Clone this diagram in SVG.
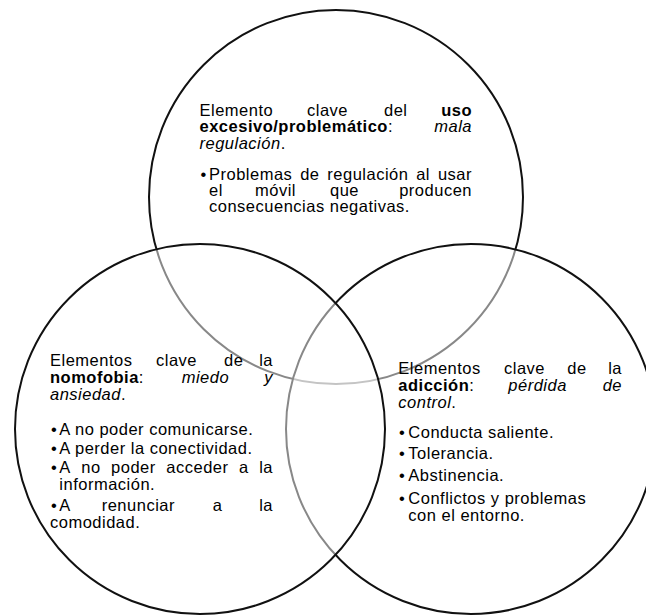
<svg xmlns="http://www.w3.org/2000/svg" width="646" height="615" viewBox="0 0 646 615">
<style>
.c{fill:#fff;fill-opacity:0.5;stroke:#111;stroke-width:2}
.t{font-family:"Liberation Sans",Arial,sans-serif;font-size:16.5px;letter-spacing:0.5px;fill:#000}
.b{font-weight:bold}
.i{font-style:italic}
.e{text-anchor:end}
</style>
<rect width="646" height="615" fill="#fff"/>
<g id="uso-excesivo">
<circle class="c" cx="336" cy="197" r="187"/>
<text class="t" y="116"><tspan x="199.5">Elemento</tspan><tspan x="307">clave</tspan><tspan x="384">del</tspan><tspan class="b e" x="472">uso</tspan></text>
<text class="t" y="132"><tspan x="199.5" class="b">excesivo/problemático</tspan>:<tspan class="i e" x="472">mala</tspan></text>
<text class="t" y="148.5"><tspan x="199.5" class="i">regulación</tspan>.</text>
<text class="t" y="180"><tspan x="200.5">•</tspan><tspan x="209">Problemas</tspan><tspan x="300.2">de</tspan><tspan x="327.3">regulación</tspan><tspan x="416.2">al</tspan><tspan class="e" x="472">usar</tspan></text>
<text class="t" y="196"><tspan x="209">el</tspan><tspan x="255">móvil</tspan><tspan x="330">que</tspan><tspan class="e" x="472">producen</tspan></text>
<text class="t" x="209" y="212">consecuencias negativas.</text>
</g>
<g id="adiccion">
<circle class="c" cx="471" cy="429" r="185"/>
<text class="t" y="374"><tspan x="398.3">Elementos</tspan><tspan x="504">clave</tspan><tspan x="567.3">de</tspan><tspan class="e" x="622">la</tspan></text>
<text class="t" y="391"><tspan x="398.3" class="b">adicción</tspan>:<tspan class="i" x="508.3">pérdida</tspan><tspan class="i e" x="622">de</tspan></text>
<text class="t" y="408"><tspan x="398.3" class="i">control</tspan>.</text>
<text class="t" y="438"><tspan x="399">•</tspan><tspan x="408.3">Conducta saliente.</tspan></text>
<text class="t" y="459"><tspan x="399">•</tspan><tspan x="408.3">Tolerancia.</tspan></text>
<text class="t" y="481"><tspan x="399">•</tspan><tspan x="408.3">Abstinencia.</tspan></text>
<text class="t" y="504"><tspan x="399">•</tspan><tspan x="408.3">Conflictos y problemas</tspan></text>
<text class="t" x="408.3" y="521">con el entorno.</text>
</g>
<g id="nomofobia">
<circle class="c" cx="200" cy="429" r="185"/>
<text class="t" y="366"><tspan x="50">Elementos</tspan><tspan x="156">clave</tspan><tspan x="224">de</tspan><tspan class="e" x="273">la</tspan></text>
<text class="t" y="383"><tspan x="50" class="b">nomofobia</tspan>:<tspan class="i" x="181.7">miedo</tspan><tspan class="i e" x="273">y</tspan></text>
<text class="t" y="400"><tspan x="50" class="i">ansiedad</tspan>.</text>
<text class="t" y="435"><tspan x="51">•</tspan><tspan x="59.3">A no poder comunicarse.</tspan></text>
<text class="t" y="454"><tspan x="51">•</tspan><tspan x="59.3">A perder la conectividad.</tspan></text>
<text class="t" y="473"><tspan x="51">•</tspan><tspan x="59.3">A</tspan><tspan x="81.3">no</tspan><tspan x="111.1">poder</tspan><tspan x="166.3">acceder</tspan><tspan x="239">a</tspan><tspan class="e" x="273">la</tspan></text>
<text class="t" x="59.3" y="490">información.</text>
<text class="t" y="511"><tspan x="51">•</tspan><tspan x="59.3">A</tspan><tspan x="101.7">renunciar</tspan><tspan x="212.7">a</tspan><tspan class="e" x="273">la</tspan></text>
<text class="t" x="50" y="528">comodidad.</text>
</g>
</svg>
